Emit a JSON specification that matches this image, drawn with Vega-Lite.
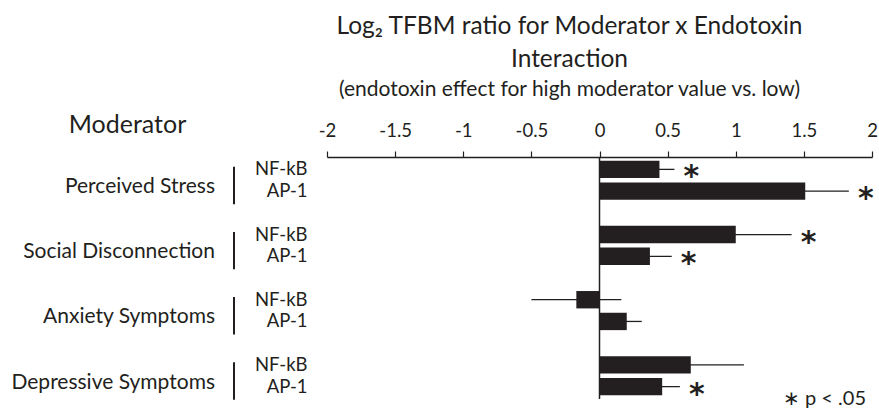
{
  "$schema": "https://vega.github.io/schema/vega-lite/v6.json",
  "width": 545,
  "height": 242,
  "autosize": {"type": "none"},
  "padding": {"left": 327, "top": 157, "right": 7, "bottom": 12},
  "background": "white",
  "config": {"view": {"stroke": null}, "font": "Lato"},
  "title": {
    "text": ["Log₂ TFBM ratio for Moderator x Endotoxin", "Interaction"],
    "subtitle": "(endotoxin effect for high moderator value vs. low)",
    "anchor": "middle",
    "dx": -30,
    "font": "Lato",
    "fontSize": 24.5,
    "fontWeight": "normal",
    "color": "#231f20",
    "lineHeight": 33,
    "subtitleFont": "Lato",
    "subtitleFontSize": 21,
    "subtitleColor": "#231f20",
    "subtitlePadding": 7,
    "offset": 11
  },
  "datasets": {
    "bars": [
      {"row": "Perceived Stress|NF-kB", "group": "Perceived Stress", "gene": "NF-kB", "value": 0.44, "lo": 0.33, "hi": 0.55, "sig": true},
      {"row": "Perceived Stress|AP-1", "group": "Perceived Stress", "gene": "AP-1", "value": 1.51, "lo": 1.19, "hi": 1.83, "sig": true},
      {"row": "Social Disconnection|NF-kB", "group": "Social Disconnection", "gene": "NF-kB", "value": 1.0, "lo": 0.59, "hi": 1.41, "sig": true},
      {"row": "Social Disconnection|AP-1", "group": "Social Disconnection", "gene": "AP-1", "value": 0.37, "lo": 0.21, "hi": 0.53, "sig": true},
      {"row": "Anxiety Symptoms|NF-kB", "group": "Anxiety Symptoms", "gene": "NF-kB", "value": -0.17, "lo": -0.5, "hi": 0.16, "sig": false},
      {"row": "Anxiety Symptoms|AP-1", "group": "Anxiety Symptoms", "gene": "AP-1", "value": 0.2, "lo": 0.09, "hi": 0.31, "sig": false},
      {"row": "Depressive Symptoms|NF-kB", "group": "Depressive Symptoms", "gene": "NF-kB", "value": 0.67, "lo": 0.28, "hi": 1.06, "sig": false},
      {"row": "Depressive Symptoms|AP-1", "group": "Depressive Symptoms", "gene": "AP-1", "value": 0.46, "lo": 0.33, "hi": 0.59, "sig": true}
    ],
    "groups": [
      {"group": "Perceived Stress", "nf": "Perceived Stress|NF-kB", "ap": "Perceived Stress|AP-1"},
      {"group": "Social Disconnection", "nf": "Social Disconnection|NF-kB", "ap": "Social Disconnection|AP-1"},
      {"group": "Anxiety Symptoms", "nf": "Anxiety Symptoms|NF-kB", "ap": "Anxiety Symptoms|AP-1"},
      {"group": "Depressive Symptoms", "nf": "Depressive Symptoms|NF-kB", "ap": "Depressive Symptoms|AP-1"}
    ],
    "note": [{"label": "∗ p < .05"}]
  },
  "layer": [
    {
      "data": {"name": "bars"},
      "mark": {"type": "rule", "color": "#231f20", "strokeWidth": 1.3},
      "encoding": {
        "y": {
          "field": "row",
          "type": "nominal",
          "sort": null,
          "title": "Moderator",
          "scale": {
            "domain": ["Perceived Stress|NF-kB", "Perceived Stress|AP-1", "gap1", "Social Disconnection|NF-kB", "Social Disconnection|AP-1", "gap2", "Anxiety Symptoms|NF-kB", "Anxiety Symptoms|AP-1", "gap3", "Depressive Symptoms|NF-kB", "Depressive Symptoms|AP-1"],
            "paddingInner": 0.2,
            "paddingOuter": 0.17
          },
          "axis": {
            "orient": "left",
            "ticks": false,
            "domain": false,
            "labelPadding": 20,
            "labelFontSize": 18.5,
            "labelFont": "Lato",
            "labelColor": "#231f20",
            "labelExpr": "indexof(datum.value, '|') > 0 ? split(datum.value, '|')[1] : ''",
            "title": "Moderator",
            "titleAngle": 0,
            "titleX": -200,
            "titleY": -33,
            "titleAlign": "center",
            "titleBaseline": "middle",
            "titleFont": "Lato",
            "titleFontSize": 25,
            "titleFontWeight": "normal",
            "titleColor": "#231f20"
          }
        },
        "x": {
          "field": "lo",
          "type": "quantitative",
          "title": null,
          "scale": {"domain": [-2, 2], "nice": false, "zero": false},
          "axis": {
            "orient": "top",
            "values": [-2, -1.5, -1, -0.5, 0, 0.5, 1, 1.5, 2],
            "grid": false,
            "tickSize": 6,
            "tickColor": "#231f20",
            "tickWidth": 1.2,
            "domainColor": "#231f20",
            "domainWidth": 1.3,
            "labelFont": "Lato",
            "labelFontSize": 18.5,
            "labelColor": "#231f20",
            "labelPadding": 11,
            "labelFlush": false,
            "labelOverlap": false,
            "labelExpr": "datum.value < 0 ? '-' + format(-datum.value, '~g') : format(datum.value, '~g')",
            "title": null
          }
        },
        "x2": {"field": "hi"}
      }
    },
    {
      "data": {"name": "bars"},
      "mark": {"type": "bar", "color": "#231f20"},
      "encoding": {
        "y": {"field": "row", "type": "nominal", "sort": null, "title": "Moderator"},
        "x": {"field": "value", "type": "quantitative", "title": null}
      }
    },
    {
      "data": {"values": [{}]},
      "mark": {"type": "rule", "color": "#231f20", "strokeWidth": 1.5},
      "encoding": {"x": {"datum": 0, "title": null}}
    },
    {
      "data": {"name": "bars"},
      "transform": [{"filter": "datum.sig"}],
      "mark": {"type": "text", "text": "*", "font": "DejaVu Sans", "fontSize": 30, "fontWeight": "bold", "align": "center", "baseline": "middle", "dx": 17, "dy": 8, "color": "#231f20"},
      "encoding": {
        "y": {"field": "row", "type": "nominal", "sort": null, "title": "Moderator"},
        "x": {"field": "hi", "type": "quantitative", "title": null}
      }
    },
    {
      "data": {"name": "bars"},
      "transform": [{"filter": "datum.gene == 'AP-1'"}],
      "mark": {"type": "text", "font": "Lato", "fontSize": 21, "align": "right", "baseline": "middle", "dx": -112, "dy": -4, "color": "#231f20"},
      "encoding": {
        "y": {"field": "row", "type": "nominal", "sort": null, "title": "Moderator"},
        "x": {"datum": -2, "title": null},
        "text": {"field": "group"}
      }
    },
    {
      "data": {"name": "groups"},
      "mark": {"type": "rule", "color": "#231f20", "strokeWidth": 2, "xOffset": -93},
      "encoding": {
        "y": {"field": "nf", "type": "nominal", "sort": null, "bandPosition": 0.35, "title": "Moderator"},
        "y2": {"field": "ap", "bandPosition": 1.25},
        "x": {"datum": -2, "title": null}
      }
    },
    {
      "data": {"name": "note"},
      "mark": {"type": "text", "font": "Lato", "fontSize": 20, "align": "right", "baseline": "middle", "dx": -6, "dy": 12, "color": "#231f20"},
      "encoding": {
        "y": {"datum": "Depressive Symptoms|AP-1", "type": "nominal", "title": "Moderator"},
        "x": {"datum": 2, "title": null},
        "text": {"field": "label"}
      }
    }
  ]
}
